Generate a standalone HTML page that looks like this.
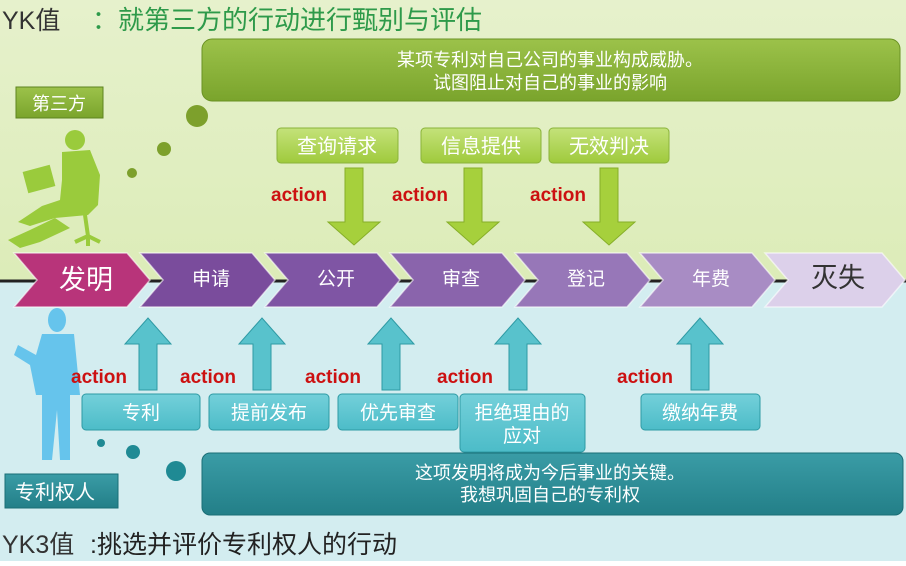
<!DOCTYPE html>
<html><head><meta charset="utf-8"><style>
html,body{margin:0;padding:0;}
body{width:906px;height:561px;overflow:hidden;font-family:"Liberation Sans","Noto Sans CJK SC",sans-serif;}
</style></head><body>
<svg width="906" height="561" viewBox="0 0 906 561" xmlns="http://www.w3.org/2000/svg" font-family="Liberation Sans, Noto Sans CJK SC, sans-serif">
<defs>
<linearGradient id="bgT" x1="0" y1="0" x2="0" y2="1"><stop offset="0" stop-color="#e6f1cc"/><stop offset="1" stop-color="#dcecb8"/></linearGradient>
<linearGradient id="gbox" x1="0" y1="0" x2="0" y2="1"><stop offset="0" stop-color="#9cc24a"/><stop offset="1" stop-color="#7aa42c"/></linearGradient>
<linearGradient id="lg" x1="0" y1="0" x2="0" y2="1"><stop offset="0" stop-color="#c4e27a"/><stop offset="1" stop-color="#9fca3c"/></linearGradient>
<linearGradient id="tb" x1="0" y1="0" x2="0" y2="1"><stop offset="0" stop-color="#74d0da"/><stop offset="1" stop-color="#4cbcc8"/></linearGradient>
<linearGradient id="tbig" x1="0" y1="0" x2="0" y2="1"><stop offset="0" stop-color="#3a9ca6"/><stop offset="1" stop-color="#237f88"/></linearGradient>
</defs>
<rect width="906" height="281" fill="url(#bgT)"/>
<rect y="281" width="906" height="280" fill="#d3edf0"/>
<line x1="0" y1="281" x2="906" y2="281" stroke="#222" stroke-width="3"/>

<text x="2" y="29" font-size="25" fill="#333">YK值</text>
<text x="92" y="29" font-size="26" fill="#2e9a4a">：就第三方的行动进行甄别与评估</text>

<rect x="202" y="39" width="698" height="62" rx="10" fill="url(#gbox)" stroke="#6a9224"/>
<text x="550" y="66" font-size="18" fill="#fff" text-anchor="middle">某项专利对自己公司的事业构成威胁。</text>
<text x="550" y="89" font-size="18" fill="#fff" text-anchor="middle">试图阻止对自己的事业的影响</text>

<rect x="16" y="87" width="87" height="31" fill="url(#gbox)" stroke="#5e8420"/>
<text x="59" y="110" font-size="18" fill="#fff" text-anchor="middle">第三方</text>

<circle cx="197" cy="116" r="11" fill="#7da02c"/>
<circle cx="164" cy="149" r="7" fill="#7da02c"/>
<circle cx="132" cy="173" r="5" fill="#7da02c"/>

<g fill="#9acb3c">
<circle cx="75" cy="140" r="10"/>
<path d="M62 152 L90 150 L100 175 L98 205 L88 215 L55 218 L30 226 L18 222 L42 206 L60 200 L62 180 Z"/>
<path d="M55 218 L70 228 L40 242 L20 248 L8 240 L30 230 Z"/>
<rect x="25" y="168" width="28" height="22" transform="rotate(-15 39 179)"/>
<path d="M85 215 L88 236 L75 242 M88 236 L100 242 M88 236 L88 246" stroke="#9acb3c" stroke-width="4" fill="none"/>
</g>

<g font-size="20" fill="#fff" text-anchor="middle">
<rect x="277" y="128" width="121" height="35" rx="4" fill="url(#lg)" stroke="#8ab33a"/><text x="337" y="153">查询请求</text>
<rect x="421" y="128" width="120" height="35" rx="4" fill="url(#lg)" stroke="#8ab33a"/><text x="481" y="153">信息提供</text>
<rect x="549" y="128" width="120" height="35" rx="4" fill="url(#lg)" stroke="#8ab33a"/><text x="609" y="153">无效判决</text>
</g>
<g fill="#a6d03c" stroke="#86ae28">
<path d="M345 168 H363 V222 H380 L354 245 L328 222 H345 Z"/>
<path d="M464 168 H482 V222 H499 L473 245 L447 222 H464 Z"/>
<path d="M600 168 H618 V222 H635 L609 245 L583 222 H600 Z"/>
</g>
<g font-size="19" font-weight="bold" fill="#cc1111">
<text x="271" y="201">action</text><text x="392" y="201">action</text><text x="530" y="201">action</text>
</g>

<g stroke="#fff" stroke-opacity="0.6" stroke-width="1.5">
<path d="M14 253 H127 L150 280 L127 307 H14 L37 280 Z" fill="#b8347a"/>
<path d="M140 253 H252 L275 280 L252 307 H140 L163 280 Z" fill="#7a4c9c"/>
<path d="M265 253 H377 L400 280 L377 307 H265 L288 280 Z" fill="#7f55a4"/>
<path d="M390 253 H502 L525 280 L502 307 H390 L413 280 Z" fill="#8a64ac"/>
<path d="M515 253 H627 L650 280 L627 307 H515 L538 280 Z" fill="#9777b8"/>
<path d="M640 253 H752 L775 280 L752 307 H640 L663 280 Z" fill="#a88cc4"/>
<path d="M765 253 H882 L905 280 L882 307 H765 L788 280 Z" fill="#dcd0ea"/>
</g>
<g fill="#fff" text-anchor="middle" font-size="19">
<text x="86" y="289" font-size="27">发明</text>
<text x="211" y="285">申请</text>
<text x="336" y="285">公开</text>
<text x="461" y="285">审查</text>
<text x="586" y="285">登记</text>
<text x="711" y="285">年费</text>
<text x="838" y="287" font-size="27" fill="#333">灭失</text>
</g>

<g fill="#66c4ec">
<ellipse cx="57" cy="320" rx="9" ry="12"/>
<path d="M42 334 H74 L80 395 L70 395 L70 460 L60 460 L57 410 L52 460 L42 460 L42 395 L36 395 L30 365 L14 355 L18 345 L36 355 Z"/>
</g>

<g fill="#58c2cc" stroke="#2e9aa4">
<path d="M139 390 V344 H125 L148 318 L171 344 H157 V390 Z"/>
<path d="M253 390 V344 H239 L262 318 L285 344 H271 V390 Z"/>
<path d="M382 390 V344 H368 L391 318 L414 344 H400 V390 Z"/>
<path d="M509 390 V344 H495 L518 318 L541 344 H527 V390 Z"/>
<path d="M691 390 V344 H677 L700 318 L723 344 H709 V390 Z"/>
</g>
<g font-size="19" font-weight="bold" fill="#cc1111">
<text x="71" y="383">action</text><text x="180" y="383">action</text><text x="305" y="383">action</text><text x="437" y="383">action</text><text x="617" y="383">action</text>
</g>
<g font-size="19" fill="#fff" text-anchor="middle">
<rect x="82" y="394" width="118" height="36" rx="4" fill="url(#tb)" stroke="#2e9aa4"/><text x="141" y="419">专利</text>
<rect x="209" y="394" width="120" height="36" rx="4" fill="url(#tb)" stroke="#2e9aa4"/><text x="269" y="419">提前发布</text>
<rect x="338" y="394" width="120" height="36" rx="4" fill="url(#tb)" stroke="#2e9aa4"/><text x="398" y="419">优先审查</text>
<rect x="460" y="394" width="125" height="58" rx="4" fill="url(#tb)" stroke="#2e9aa4"/><text x="522" y="419">拒绝理由的</text><text x="522" y="442">应对</text>
<rect x="641" y="394" width="119" height="36" rx="4" fill="url(#tb)" stroke="#2e9aa4"/><text x="700" y="419">缴纳年费</text>
</g>

<circle cx="101" cy="443" r="4" fill="#1f8a94"/>
<circle cx="133" cy="452" r="7" fill="#1f8a94"/>
<circle cx="176" cy="471" r="10" fill="#1f8a94"/>

<rect x="202" y="453" width="701" height="62" rx="8" fill="url(#tbig)" stroke="#1a6e76"/>
<text x="550" y="479" font-size="18" fill="#fff" text-anchor="middle">这项发明将成为今后事业的关键。</text>
<text x="550" y="501" font-size="18" fill="#fff" text-anchor="middle">我想巩固自己的专利权</text>

<rect x="5" y="474" width="113" height="34" fill="url(#tbig)" stroke="#1a6e76"/>
<text x="55" y="499" font-size="20" fill="#fff" text-anchor="middle">专利权人</text>

<text x="2" y="553" font-size="25" fill="#333">YK3值</text>
<text x="90" y="553" font-size="25" fill="#222">:挑选并评价专利权人的行动</text>
</svg>
</body></html>
